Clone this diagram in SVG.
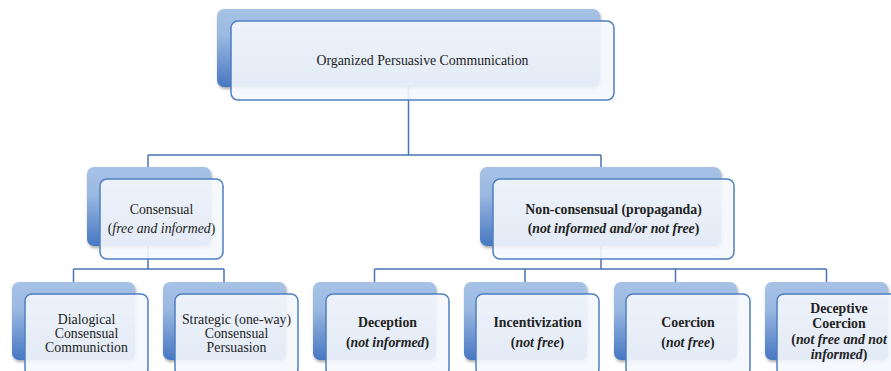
<svg xmlns="http://www.w3.org/2000/svg" width="891" height="371" viewBox="0 0 891 371">
<defs>
<linearGradient id="bg" x1="0" y1="0" x2="0" y2="1">
<stop offset="0" stop-color="#a7c2e6"/>
<stop offset="0.35" stop-color="#9ab8e1"/>
<stop offset="1" stop-color="#4677c2"/>
</linearGradient>
<filter id="sh" x="-10%" y="-10%" width="125%" height="130%">
<feGaussianBlur in="SourceAlpha" stdDeviation="1.5"/>
<feOffset dx="1" dy="2"/>
<feComponentTransfer><feFuncA type="linear" slope="0.35"/></feComponentTransfer>
<feMerge><feMergeNode/><feMergeNode in="SourceGraphic"/></feMerge>
</filter>
</defs>
<style>
.back{fill:url(#bg);filter:url(#sh)}
.front{fill:#f4f7fc;fill-opacity:0.9;stroke:#4f7fc0;stroke-width:1.5}
.conn{fill:none;stroke:#4a74b4;stroke-width:1.5}
text{font-family:"Liberation Serif","DejaVu Serif",serif;font-size:13.8px;fill:#222;text-anchor:middle}
.b{font-weight:bold}
.i{font-style:italic}
</style>
<rect width="891" height="371" fill="#ffffff"/>
<g id="connectors">
<path class="conn" d="M408.5 87 V155 M148 155 H601 M148 155 V167 M601 155 V167"/>
<path class="conn" d="M148 246 V269 M73.5 269 H224 M73.5 269 V282 M224 269 V282"/>
<path class="conn" d="M601 246 V269 M374.5 269 H826.5 M374.5 269 V282 M525 269 V282 M675.5 269 V282 M826.5 269 V282"/>
</g>
<g id="n-root">
<rect class="back" x="217" y="9" width="383" height="78" rx="7"/>
<rect class="front" x="231" y="21" width="383" height="79" rx="7"/>
<text x="422.5" y="64.5">Organized Persuasive Communication</text>
</g>
<g id="n-consensual">
<rect class="back" x="87" y="167" width="124" height="79" rx="7"/>
<rect class="front" x="100" y="179" width="123" height="80" rx="7"/>
<text x="161.5" y="214">Consensual</text>
<text x="161.5" y="233">(<tspan class="i">free and informed</tspan>)</text>
</g>
<g id="n-nonconsensual">
<rect class="back" x="480" y="167" width="241" height="79" rx="7"/>
<rect class="front" x="493" y="179" width="241" height="80" rx="7"/>
<text class="b" x="613.5" y="214">Non-consensual (propaganda)</text>
<text class="b" x="613.5" y="233">(<tspan class="i">not informed and/or not free</tspan>)</text>
</g>
<g id="n-dialogical">
<rect class="back" x="12" y="282" width="123" height="78" rx="7"/>
<rect class="front" x="25" y="294" width="123" height="82" rx="7"/>
<text x="86.5" y="324">Dialogical</text>
<text x="86.5" y="338">Consensual</text>
<text x="86.5" y="352">Communiction</text>
</g>
<g id="n-strategic">
<rect class="back" x="163" y="282" width="123" height="78" rx="7"/>
<rect class="front" x="175" y="294" width="123" height="82" rx="7"/>
<text x="236.5" y="324">Strategic (one-way)</text>
<text x="236.5" y="338">Consensual</text>
<text x="236.5" y="352">Persuasion</text>
</g>
<g id="n-deception">
<rect class="back" x="313" y="282" width="123" height="78" rx="7"/>
<rect class="front" x="326" y="294" width="123" height="82" rx="7"/>
<text class="b" x="387.5" y="327">Deception</text>
<text class="b" x="387.5" y="347">(<tspan class="i">not informed</tspan>)</text>
</g>
<g id="n-incentivization">
<rect class="back" x="464" y="282" width="123" height="78" rx="7"/>
<rect class="front" x="476" y="294" width="123" height="82" rx="7"/>
<text class="b" x="537.5" y="327">Incentivization</text>
<text class="b" x="537.5" y="347">(<tspan class="i">not free</tspan>)</text>
</g>
<g id="n-coercion">
<rect class="back" x="614" y="282" width="123" height="78" rx="7"/>
<rect class="front" x="626" y="294" width="124" height="82" rx="7"/>
<text class="b" x="688" y="327">Coercion</text>
<text class="b" x="688" y="347">(<tspan class="i">not free</tspan>)</text>
</g>
<g id="n-deceptive-coercion">
<rect class="back" x="765" y="282" width="123" height="78" rx="7"/>
<rect class="front" x="777" y="294" width="124" height="82" rx="7"/>
<text class="b" x="839" y="313">Deceptive</text>
<text class="b" x="839" y="328">Coercion</text>
<text class="b" x="839" y="344">(<tspan class="i">not free and not</tspan></text>
<text class="b" x="839" y="359"><tspan class="i">informed</tspan>)</text>
</g>
</svg>
